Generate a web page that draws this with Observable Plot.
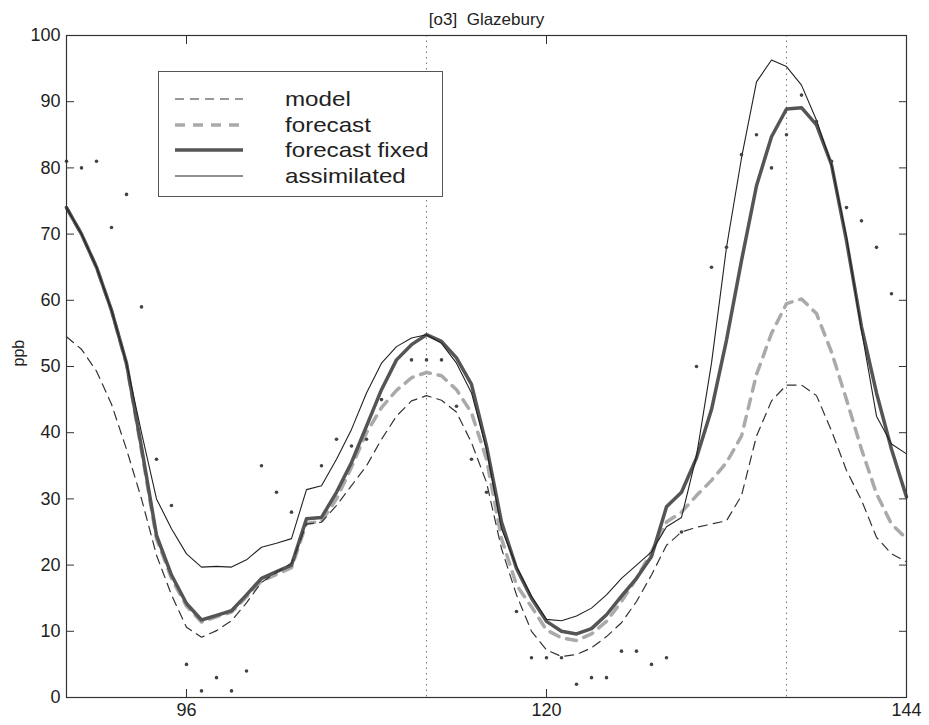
<!DOCTYPE html>
<html><head><meta charset="utf-8">
<script src="https://cdn.jsdelivr.net/npm/d3@7"></script>
<script src="https://cdn.jsdelivr.net/npm/@observablehq/plot@0.6"></script>
<style>
body{margin:0;background:#fff;}
#wrap{position:relative;width:929px;height:725px;font-family:"Liberation Sans",Arial,sans-serif;}
#legend{position:absolute;left:158px;top:71px;width:285px;height:126px;border:1.5px solid #555;background:#fff;box-sizing:border-box;}
.row{position:absolute;left:0;height:26px;width:100%;}
.row svg{position:absolute;left:16px;top:0;}
.row span{position:absolute;left:126px;top:1px;font-size:21px;line-height:24px;color:#222;transform:scaleX(1.15);transform-origin:left center;white-space:nowrap;}
</style>
</head><body><div id="wrap"></div>
<script>
const hours = [88,89,90,91,92,93,94,95,96,97,98,99,100,101,102,103,104,105,106,107,108,109,110,111,112,113,114,115,116,117,118,119,120,121,122,123,124,125,126,127,128,129,130,131,132,133,134,135,136,137,138,139,140,141,142,143,144];

const model = [54.5,52.6,49.3,44.3,37.5,30,21.5,15.5,10.6,9.1,10.1,11.6,14.3,17.4,18.9,20.3,26.2,26.5,29,32,35,39,42.5,44.8,45.6,44.9,43.1,38.5,32.5,22.5,15.5,10,7.2,6.2,6.5,7.5,9.2,11.3,14.5,18.5,23,25,25.7,26.2,26.7,30.5,39.5,44.8,47.2,47.2,45.6,40.3,34.3,29.8,24.2,21.7,20.5];

const forecast = [74,70,65,58.5,50.3,37.3,24,18,13.8,11.4,12.2,12.9,15.2,17.6,18.6,19.6,26.3,26.6,30,34.8,40,43.8,46.4,48.3,49.1,48.6,46.5,43,36,24,17,13.7,10.2,9,8.6,9.6,11.5,14.5,18,22,26.5,28,30.5,32.8,35.5,39.5,48.8,55,59.5,60.2,58,52.2,45,37.5,30.8,26.2,24];

const forecastFixed = [74,70,65,58.5,50.5,37.8,24.5,18.5,14.2,11.7,12.4,13.1,15.5,18,19,20,27,27.2,31,35.5,41,46.5,51,53.3,54.8,53.8,51.3,47.3,38,26.5,19.5,15,11.5,10,9.6,10.4,12.5,15.3,18,21.3,28.8,31,36.2,43.5,54,66,77.3,84.7,88.9,89.1,86.5,80.5,69,56,46,37.5,30.3];

const assimilated = [74,70,65,58.5,50.5,40,30,25.5,21.7,19.7,19.8,19.7,20.8,22.7,23.3,24,31.4,32,36,40.5,46,50.5,53,54.3,54.8,53.5,50.5,46,37.5,25.5,19.8,15.3,11.8,11.6,12.3,13.5,15.5,18,20,22,25.8,27.2,36.5,50.5,68,81.5,93,96.3,95.3,92.5,87.2,80.5,69.5,55.5,42.5,38.3,36.8];

const obsHours  = [88,89,90,91,92,93,94,95,96,97,98,99,100,101,102,103,105,106,107,108,109,111,112,113,114,115,116,118,119,120,121,122,123,124,125,126,127,128,129,130,131,132,133,134,135,136,137,138,139,140,141,142,143];
const obsValues = [81,80,81,71,76,59,36,29,5,1,3,1,4,35,31,28,35,39,38,39,45,51,51,51,44,36,31,13,6,6,6,2,3,3,7,7,5,6,25,50,65,68,82,85,80,85,91,87,81,74,72,68,61];

const xTicks = [96,120,144];
const yTicks = [0,10,20,30,40,50,60,70,80,90,100];
const dayMarks = [112,136];
const title = "[o3]\u00a0 Glazebury";
const yLabel = "ppb";

const seriesNames = ["model","forecast","forecast fixed","assimilated"];
const seriesStyle = {
  "model": {stroke:"#333", strokeWidth:1.2, dash:"9,6"},
  "forecast": {stroke:"#aaa", strokeWidth:3.5, dash:"10,8"},
  "forecast fixed": {stroke:"#555", strokeWidth:3.5, dash:null},
  "assimilated": {stroke:"#222", strokeWidth:1.1, dash:null}
};

const rows = hours.map((h,i)=>({hour:h, model:model[i], forecast:forecast[i], fixed:forecastFixed[i], assim:assimilated[i]}));
const obs = obsHours.map((h,i)=>({hour:h, value:obsValues[i]}));

const lineOpts = (key, name) => {
  const s = seriesStyle[name];
  return {x:"hour", y:key, stroke:s.stroke, strokeWidth:s.strokeWidth, strokeDasharray:s.dash ?? undefined};
};
const noText = () => "";

const chart = Plot.plot({
  width: 929, height: 725,
  marginLeft: 66, marginRight: 23, marginTop: 35, marginBottom: 28,
  style: {fontFamily: "Liberation Sans, Arial, sans-serif", fontSize: "18px", background: "white", color: "#222"},
  x: {domain: [88,144], label: null},
  y: {domain: [0,100], label: null},
  marks: [
    Plot.ruleX(dayMarks, {stroke:"#777", strokeDasharray:"1.5,4", strokeWidth:1}),
    Plot.line(rows, lineOpts("forecast","forecast")),
    Plot.line(rows, lineOpts("fixed","forecast fixed")),
    Plot.line(rows, lineOpts("model","model")),
    Plot.line(rows, lineOpts("assim","assimilated")),
    Plot.dot(obs, {x:"hour", y:"value", r:1.8, fill:"#444", stroke:"none"}),
    Plot.frame({stroke:"#333", strokeWidth:1.2}),
    // labels
    Plot.axisY(yTicks, {anchor:"left", tickSize:0, tickPadding:6, label:null}),
    Plot.axisX(xTicks, {anchor:"bottom", tickSize:0, tickPadding:6, label:null}),
    // inward ticks
    Plot.axisY(yTicks, {anchor:"left", tickSize:8, dx:8, tickFormat:noText, label:null, stroke:"#333"}),
    Plot.axisY(yTicks, {anchor:"right", tickSize:8, dx:-8, tickFormat:noText, label:null, stroke:"#333"}),
    Plot.axisX(xTicks, {anchor:"bottom", tickSize:8, dy:-8, tickFormat:noText, label:null, stroke:"#333"}),
    Plot.axisX(xTicks, {anchor:"top", tickSize:8, dy:8, tickFormat:noText, label:null, stroke:"#333"}),
    Plot.text([title], {frameAnchor:"top", dy:-23, fontSize:17, fill:"#222"}),
    Plot.text([yLabel], {frameAnchor:"left", dx:-48, rotate:-90, fontSize:16, fill:"#222"})
  ]
});
const wrap = document.getElementById("wrap");
wrap.appendChild(chart);

const legend = document.createElement("div");
legend.id = "legend";
seriesNames.forEach((name,i)=>{
  const s = seriesStyle[name];
  const row = document.createElement("div");
  row.className = "row";
  row.style.top = (14 + i*25.7) + "px";
  row.innerHTML = `<svg width="70" height="26"><line x1="0" x2="68" y1="13" y2="13" stroke="${s.stroke}" stroke-width="${s.strokeWidth}" ${s.dash?`stroke-dasharray="${s.dash}"`:""}/></svg><span>${name}</span>`;
  legend.appendChild(row);
});
wrap.appendChild(legend);
</script>
</body></html>
